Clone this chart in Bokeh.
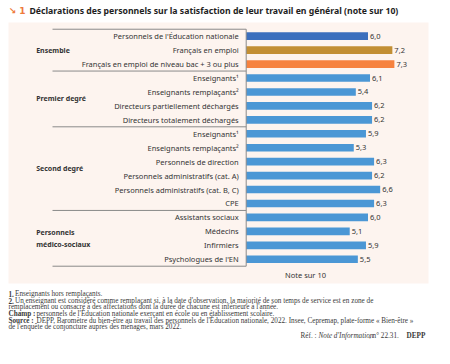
from bokeh.plotting import figure
from bokeh.models import Range1d, Label, BoxAnnotation
from bokeh.core.properties import value
from bokeh.embed import file_html
from bokeh.resources import INLINE

# ---- data ----
groups = ["Ensemble", "Premier degré", "Second degré", "Personnels\nmédico-sociaux"]
group_sizes = [3, 4, 6, 4]
categories = [
    "Personnels de l'Éducation nationale",
    "Français en emploi",
    "Français en emploi de niveau bac + 3 ou plus",
    "Enseignants¹",
    "Enseignants remplaçants²",
    "Directeurs partiellement déchargés",
    "Directeurs totalement déchargés",
    "Enseignants¹",
    "Enseignants remplaçants²",
    "Personnels de direction",
    "Personnels administratifs (cat. A)",
    "Personnels administratifs (cat. B, C)",
    "CPE",
    "Assistants sociaux",
    "Médecins",
    "Infirmiers",
    "Psychologues de l'EN",
]
values = [6.0, 7.2, 7.3, 6.1, 5.4, 6.2, 6.2, 5.9, 5.3, 6.3, 6.2, 6.6, 6.3, 6.0, 5.1, 5.9, 5.5]
bar_colors = ["#3b6fbd", "#c28f34", "#f6823f"] + ["#4b97d5"] * 14

title = "Déclarations des personnels sur la satisfaction de leur travail en général (note sur 10)"
axis_title = "Note sur 10"

# ---- layout constants (pixels) ----
W, H = 434, 348
PX_PER_UNIT = 20.3
ROW_PX = 13.94
ZERO_PX = 245.7
ROW0_PX = 35.7
x_start = -ZERO_PX / PX_PER_UNIT
x_end = x_start + W / PX_PER_UNIT
y_top = -ROW0_PX / ROW_PX
y_bottom = y_top + H / ROW_PX

FONT = value("Noto Sans")
SERIF = "Liberation Serif"
TXT = "#333333"

p = figure(width=W, height=H,
           x_range=Range1d(x_start, x_end), y_range=Range1d(y_bottom, y_top),
           x_axis_location=None, y_axis_location=None,
           min_border=0, toolbar_location=None, output_backend="svg")
p.title.visible = False
p.grid.visible = False
p.outline_line_color = None
p.background_fill_color = "white"
p.border_fill_color = "white"

# panel background
p.add_layout(BoxAnnotation(left=8, right=428, top=22, bottom=283,
                           left_units="canvas", right_units="canvas",
                           top_units="canvas", bottom_units="canvas",
                           fill_color="#fdf4ef", fill_alpha=1, line_color=None,
                           level="underlay"))

ypos = list(range(len(categories)))

p.hbar(y=ypos, left=0, right=values, height=0.55, fill_color=bar_colors, line_color=None)

p.text(x=[0] * len(categories), y=ypos, text=categories, x_offset=-7.5,
       text_align="right", text_baseline="middle", text_font=FONT,
       text_font_size="7.5px", text_color=TXT)

val_labels = [f"{v:.1f}".replace(".", ",") for v in values]
p.text(x=values, y=ypos, text=val_labels, x_offset=2,
       text_align="left", text_baseline="middle", text_font=FONT,
       text_font_size="7.5px", text_color=TXT)

# group labels and separators
bounds = [-0.5]
centers = []
for s in group_sizes:
    centers.append(bounds[-1] + s / 2)
    bounds.append(bounds[-1] + s)
p.text(x=[0] * len(groups), y=centers, text=groups, x_offset=-210,
       text_align="left", text_baseline="middle", text_font=FONT,
       text_font_size="7px", text_font_style="bold", text_color=TXT,
       text_line_height=1.35)

sep_left = -(ZERO_PX - 52) / PX_PER_UNIT
p.segment(x0=[sep_left] * len(bounds), x1=[0] * len(bounds), y0=bounds, y1=bounds,
          line_color="#8a8a8a", line_width=1)
p.segment(x0=[0], x1=[0], y0=[bounds[0]], y1=[bounds[-1]], line_color="#8a8a8a", line_width=1)

# axis title
p.add_layout(Label(x=305, y=274, x_units="canvas", y_units="canvas", text=axis_title,
                   text_align="center", text_baseline="middle", text_font="Noto Sans",
                   text_font_size="7.5px", text_color=TXT))

# chart title
p.add_layout(Label(x=8, y=10, x_units="canvas", y_units="canvas", text="↘ 1",
                   text_align="left", text_baseline="middle", text_font="DejaVu Sans",
                   text_font_size="9px", text_font_style="bold", text_color="#ee7a3c"))
p.add_layout(Label(x=29, y=10, x_units="canvas", y_units="canvas", text=title,
                   text_align="left", text_baseline="middle", text_font="Noto Sans",
                   text_font_size="8.7px", text_font_style="bold", text_color="#1e1e1e"))

# footnotes
def note(x, y, t, style="normal"):
    p.add_layout(Label(x=x, y=y, x_units="canvas", y_units="canvas", text=t,
                       text_align="left", text_baseline="middle", text_font=SERIF,
                       text_font_size="7.2px", text_font_style=style, text_color="#3a3a3a"))

note(8, 293.3, "1.", "bold")
note(14.5, 293.3, "Enseignants hors remplaçants.")
note(8, 300, "2.", "bold")
note(14.5, 300, "Un enseignant est considéré comme remplaçant si, à la date d'observation, la majorité de son temps de service est en zone de")
note(8, 306.7, "remplacement ou consacré à des affectations dont la durée de chacune est inférieure à l'année.")
note(8, 313.3, "Champ :", "bold")
note(36, 313.3, "personnels de l'Éducation nationale exerçant en école ou en établissement scolaire.")
note(8, 320, "Source :", "bold")
note(36, 320, "DEPP, Baromètre du bien-être au travail des personnels de l'Éducation nationale, 2022. Insee, Cepremap, plate-forme « Bien-être »")
note(8, 326.7, "de l'enquête de conjoncture auprès des ménages, mars 2022.")
note(300, 335.6, "Réf. :")
note(318, 335.6, "Note d'Information", "italic")
note(368.5, 335.6, ", n° 22.31.")
note(406, 335.6, "DEPP", "bold")

open("out.html", "w").write(file_html(p, INLINE))
